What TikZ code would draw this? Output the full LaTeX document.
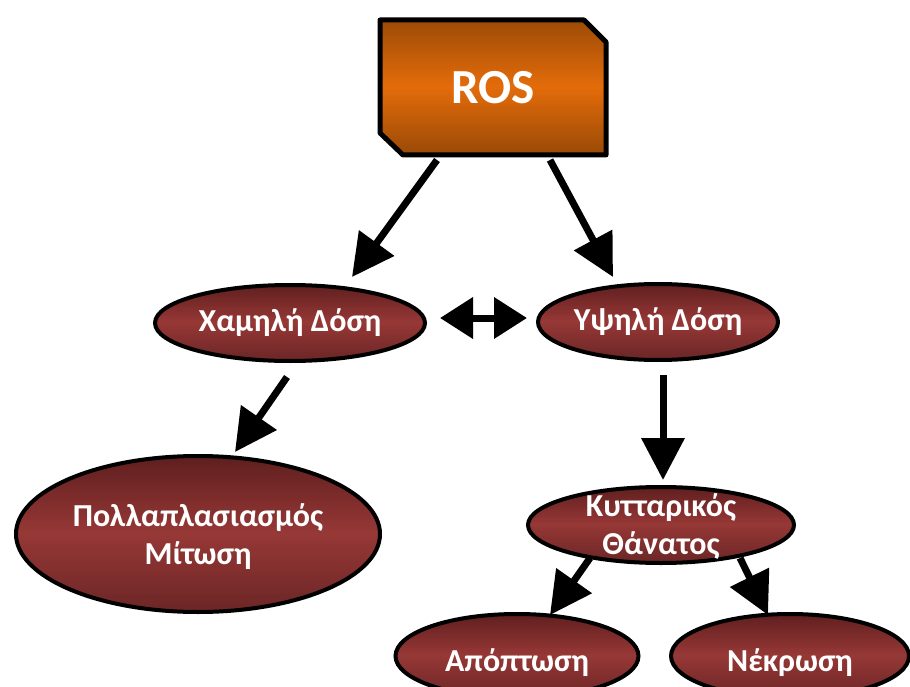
\documentclass[tikz,border=0pt]{standalone}
\usepackage{fontspec}
\setmainfont{Carlito}
\usetikzlibrary{shapes.geometric,arrows.meta,calc}
\definecolor{rosdark}{HTML}{9A4A07}
\definecolor{rosmid}{HTML}{E46C0A}
\definecolor{ovdark}{HTML}{5E1E1E}
\definecolor{ovmid}{HTML}{963836}
\definecolor{ovlow}{HTML}{6C2626}
\tikzset{
  % vertical three-stop gradient built from thin stripes: top, middle, bottom colour
  vgrad/.style n args={3}{path picture={
    \foreach \k in {0,...,59}{
      \pgfmathsetmacro\q{(\k+0.5)/60}
      \ifdim\q pt<0.5pt
        \pgfmathsetmacro\p{100*(1-2*\q)}
        \fill[#1!\p!#2]
          ($(path picture bounding box.north west)!\k/60!(path picture bounding box.south west)+(-1,-0.6)$)
          rectangle
          ($(path picture bounding box.north east)!\k/60+1/60!(path picture bounding box.south east)+(1,0.6)$);
      \else
        \pgfmathsetmacro\p{100*(2*\q-1)}
        \fill[#3!\p!#2]
          ($(path picture bounding box.north west)!\k/60!(path picture bounding box.south west)+(-1,-0.6)$)
          rectangle
          ($(path picture bounding box.north east)!\k/60+1/60!(path picture bounding box.south east)+(1,0.6)$);
      \fi
    }}},
  oval/.style={ellipse, draw=black, line width=4pt, inner sep=0pt,
    vgrad={ovdark}{ovmid}{ovlow}},
  txt/.style={text=white, font=\bfseries\fontsize{32}{38}\selectfont, align=center, inner sep=0pt},
  arr/.style={line width=7pt, -{Triangle[length=42pt,width=42pt]}},
  biarr/.style={line width=7pt, {Triangle[length=33pt,width=40pt]}-{Triangle[length=33pt,width=40pt]}}
}
\begin{document}
\begin{tikzpicture}[x=1pt,y=-1pt]
\useasboundingbox (0,0) rectangle (910,687);

% ROS box with two clipped corners
\path[draw=black, line width=5pt, line join=round, vgrad={rosdark}{rosmid}{rosdark}]
  (380,20) -- (584,20) -- (606,42) -- (606,155) -- (403,155) -- (380,133) -- cycle;
\node[text=white, font=\bfseries\fontsize{49}{56}\selectfont, inner sep=0pt] (ros) at (493,88) {ROS};

% dose and outcome ellipses
\node[oval, minimum width=270pt, minimum height=76pt] (low) at (290,323) {};
\node[txt] (lowt) at (low) {Χαμηλή Δόση};
\node[oval, minimum width=240pt, minimum height=76pt] (high) at (658,322) {};
\node[txt] (hight) at (high) {Υψηλή Δόση};
\node[oval, minimum width=364pt, minimum height=156pt] (prolif) at (198,534) {};
\node[txt] (prolift) at ($(prolif)+(0,3)$) {Πολλαπλασιασμός\\Μίτωση};
\node[oval, minimum width=266pt, minimum height=76pt] (death) at (661,525) {};
\node[txt] (deatht) at ($(death)+(0,2)$) {Κυτταρικός\\Θάνατος};
\node[oval, minimum width=243pt, minimum height=84pt] (apop) at (517,656) {};
\node[txt] (apopt) at ($(apop)+(0,7)$) {Απόπτωση};
\node[oval, minimum width=238pt, minimum height=84pt] (necr) at (790,656) {};
\node[txt] (necrt) at ($(necr)+(0,7)$) {Νέκρωση};

% connector end points
\coordinate (r1) at (437,160);
\coordinate (r2) at (550,160);
\coordinate (l1) at (352,277);
\coordinate (h1) at (613,277);
\coordinate (l2) at (287,377);
\coordinate (p1) at (235,452);
\coordinate (h2) at (663,375);
\coordinate (d1) at (663,480);
\coordinate (d2) at (590,558);
\coordinate (a1) at (550,615);
\coordinate (d3) at (740,558);
\coordinate (n1) at (768,615);
\coordinate (bl) at (440,318);
\coordinate (br) at (527,318);

\draw[arr] (r1) -- (l1);
\draw[arr] (r2) -- (h1);
\draw[arr] (l2) -- (p1);
\draw[arr] (h2) -- (d1);
\draw[arr] (d2) -- (a1);
\draw[arr] (d3) -- (n1);
\draw[biarr] (bl) -- (br);
\end{tikzpicture}
\end{document}
